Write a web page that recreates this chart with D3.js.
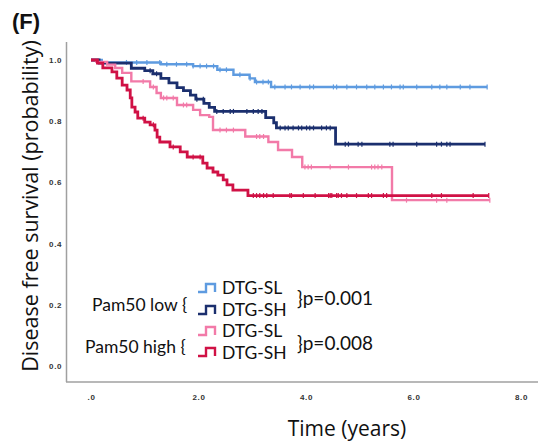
<!DOCTYPE html>
<html>
<head>
<meta charset="utf-8">
<script src="https://cdn.jsdelivr.net/npm/d3@7"></script>
<style>
  body { margin: 0; background: #fff; }
  text { font-family: "Open Sans", sans-serif; fill: #111; }
  .tick text { font-family: "Liberation Sans", Arial, sans-serif; font-weight: bold; font-size: 8px; fill: #333; letter-spacing: 0.6px; }
  .legend text { font-family: Lato, "Open Sans", sans-serif; }
</style>
</head>
<body>
<div id="chart"></div>
<script>
// tick values
var xTicks = [0, 2, 4, 6, 8],
    yTicks = [0, 0.2, 0.4, 0.6, 0.8, 1.0];

// step drops [time, survival] and censor times, per group
var lowSL = [[0.2, 0.992], [1.3, 0.986], [1.9, 0.98], [2.35, 0.968], [2.65, 0.952], [2.95, 0.94], [3.05, 0.928], [3.35, 0.912]],
    lowSH = [[0.15, 0.99], [0.75, 0.973], [1.0, 0.965], [1.15, 0.955], [1.3, 0.94], [1.45, 0.925], [1.6, 0.91], [1.72, 0.9], [1.85, 0.885], [1.95, 0.872], [2.1, 0.858], [2.2, 0.845], [2.3, 0.832], [3.25, 0.812], [3.4, 0.795], [3.45, 0.778], [4.55, 0.725]],
    highSL = [[0.1, 0.994], [0.3, 0.985], [0.45, 0.974], [0.58, 0.958], [0.75, 0.93], [1.1, 0.912], [1.22, 0.892], [1.3, 0.876], [1.6, 0.853], [1.9, 0.837], [2.03, 0.82], [2.2, 0.814], [2.27, 0.771], [2.87, 0.75], [3.3, 0.732], [3.48, 0.706], [3.74, 0.683], [3.93, 0.65], [5.6, 0.542]],
    highSH = [[0.12, 0.99], [0.22, 0.974], [0.39, 0.961], [0.48, 0.941], [0.58, 0.918], [0.67, 0.902], [0.73, 0.876], [0.76, 0.846], [0.82, 0.83], [0.87, 0.81], [1.0, 0.797], [1.1, 0.788], [1.19, 0.771], [1.23, 0.748], [1.28, 0.732], [1.47, 0.716], [1.66, 0.7], [1.79, 0.683], [2.08, 0.663], [2.16, 0.647], [2.27, 0.634], [2.36, 0.624], [2.46, 0.608], [2.53, 0.592], [2.64, 0.575], [2.92, 0.557]];

var lowSLEnd = 7.37, lowSHEnd = 7.33, highSLEnd = 7.42, highSHEnd = 7.4;

var lowSLCens = [0.66, 0.85, 1.04, 1.28, 1.41, 1.59, 1.78, 1.9, 2.03, 2.15, 2.28, 2.4, 2.52, 2.77, 2.96, 3.08, 3.2, 3.3, 3.42, 3.61, 3.73, 3.89, 4.07, 4.14, 4.51, 4.57, 4.76, 4.94, 5.13, 5.28, 5.44, 5.59, 5.75, 5.81, 6.06, 6.34, 6.49, 6.62, 6.87, 7.05, 7.37],
    lowSHCens = [1.1, 1.22, 1.97, 2.09, 2.34, 2.46, 2.59, 2.65, 2.9, 3.02, 3.11, 3.18, 3.52, 3.61, 3.67, 3.76, 3.86, 3.92, 4.01, 4.07, 4.14, 4.29, 4.38, 4.45, 4.73, 4.79, 4.97, 5.04, 5.56, 5.62, 6.06, 6.43, 6.52, 6.62, 6.68, 7.33],
    highSLCens = [0.97, 1.16, 1.35, 1.41, 1.53, 1.72, 1.78, 2.4, 2.52, 2.65, 3.08, 3.14, 3.21, 3.98, 4.04, 4.1, 4.45, 4.79, 5.22, 5.28, 5.34, 5.41, 5.87, 6.43, 6.62, 7.42],
    highSHCens = [0.97, 1.16, 1.53, 1.9, 2.03, 3.02, 3.08, 3.14, 3.21, 3.27, 3.39, 3.7, 3.73, 3.95, 4.17, 4.42, 4.45, 4.48, 4.57, 4.6, 4.66, 4.76, 4.94, 5.16, 5.22, 5.44, 5.5, 6.34, 6.52, 7.11, 7.4];

var colors = { lowSL: '#5e9be0', lowSH: '#1b2f6e', highSL: '#f27aa8', highSH: '#d01145' };

var width = 539, height = 445;

var svg = d3.select('#chart').append('svg')
    .attr('width', width)
    .attr('height', height);

var x = d3.scaleLinear().domain([0, 8]).range([91, 521]),
    y = d3.scaleLinear().domain([0, 1]).range([366, 60]);

// frame: left + bottom axis lines
svg.append('line').attr('x1', 66.5).attr('x2', 66.5).attr('y1', 42).attr('y2', 382)
    .attr('stroke', '#a0a0a0').attr('stroke-width', 1.5);
svg.append('line').attr('x1', 66).attr('x2', 538).attr('y1', 382).attr('y2', 382)
    .attr('stroke', '#a0a0a0').attr('stroke-width', 1.5);

var xAxis = svg.append('g').attr('transform', 'translate(0,382)')
    .call(d3.axisBottom(x).tickValues(xTicks).tickSize(0).tickPadding(12)
        .tickFormat(function(d) { return d === 0 ? '.0' : d3.format('.1f')(d); }));
xAxis.select('.domain').remove();

var yAxis = svg.append('g').attr('transform', 'translate(62,0)')
    .call(d3.axisLeft(y).tickValues(yTicks).tickSize(0).tickPadding(0)
        .tickFormat(d3.format('.1f')));
yAxis.select('.domain').remove();

function stepPoints(drops, end) {
    var pts = [[0, 1]].concat(drops);
    pts.push([end, drops[drops.length - 1][1]]);
    return pts;
}

function survAt(drops, t) {
    var s = 1;
    drops.forEach(function(d) { if (d[0] <= t) s = d[1]; });
    return s;
}

var line = d3.line()
    .x(function(d) { return x(d[0]); })
    .y(function(d) { return y(d[1]); })
    .curve(d3.curveStepAfter);

var groups = [
    { drops: lowSL, end: lowSLEnd, cens: lowSLCens, color: colors.lowSL, w: 2.4 },
    { drops: lowSH, end: lowSHEnd, cens: lowSHCens, color: colors.lowSH, w: 2.8 },
    { drops: highSL, end: highSLEnd, cens: highSLCens, color: colors.highSL, w: 2.4 },
    { drops: highSH, end: highSHEnd, cens: highSHCens, color: colors.highSH, w: 2.8 }
];

groups.forEach(function(g) {
    svg.append('path')
        .datum(stepPoints(g.drops, g.end))
        .attr('d', line)
        .attr('fill', 'none')
        .attr('stroke', g.color)
        .attr('stroke-width', g.w);
    svg.append('g').selectAll('line')
        .data(g.cens)
        .enter().append('line')
        .attr('x1', function(t) { return x(t); })
        .attr('x2', function(t) { return x(t); })
        .attr('y1', function(t) { return y(survAt(g.drops, t)) - 2.5; })
        .attr('y2', function(t) { return y(survAt(g.drops, t)) + 2.5; })
        .attr('stroke', g.color)
        .attr('stroke-width', 1.2);
});

// titles
svg.append('text').attr('x', 12).attr('y', 29).text('(F)')
    .style('font-family', 'Liberation Sans, Arial, sans-serif')
    .style('font-weight', 'bold').style('font-size', '22px');

svg.append('text')
    .attr('transform', 'translate(38,206) rotate(-90)')
    .attr('text-anchor', 'middle')
    .style('font-size', '21.5px')
    .text('Disease free survival (probability)');

svg.append('text')
    .attr('x', 347).attr('y', 436)
    .attr('text-anchor', 'middle')
    .style('font-size', '21px')
    .text('Time (years)');

// legend
var legendRows = [
    { group: 'Pam50 low', gx: 92, gy: 311, p: 'p=0.001', py: 305,
      items: [{ label: 'DTG-SL', color: colors.lowSL, ty: 294, iy: 284 }, { label: 'DTG-SH', color: colors.lowSH, ty: 316, iy: 306 }] },
    { group: 'Pam50 high', gx: 85, gy: 353, p: 'p=0.008', py: 350,
      items: [{ label: 'DTG-SL', color: colors.highSL, ty: 337, iy: 327 }, { label: 'DTG-SH', color: colors.highSH, ty: 359, iy: 348 }] }
];

var leg = svg.append('g').attr('class', 'legend').style('font-size', '17.5px');
legendRows.forEach(function(r) {
    leg.append('text').attr('x', r.gx).attr('y', r.gy).text(r.group + ' {');
    r.items.forEach(function(it) {
        leg.append('path')
            .attr('d', 'M198,' + (it.iy + 8) + 'H206V' + it.iy + 'H215V' + (it.iy + 8))
            .attr('fill', 'none').attr('stroke', it.color).attr('stroke-width', 2.4);
        leg.append('text').attr('x', 222).attr('y', it.ty).text(it.label);
    });
    leg.append('text').attr('x', 297).attr('y', r.py).style('font-size', '19px').text('}' + r.p);
});
</script>
</body>
</html>
